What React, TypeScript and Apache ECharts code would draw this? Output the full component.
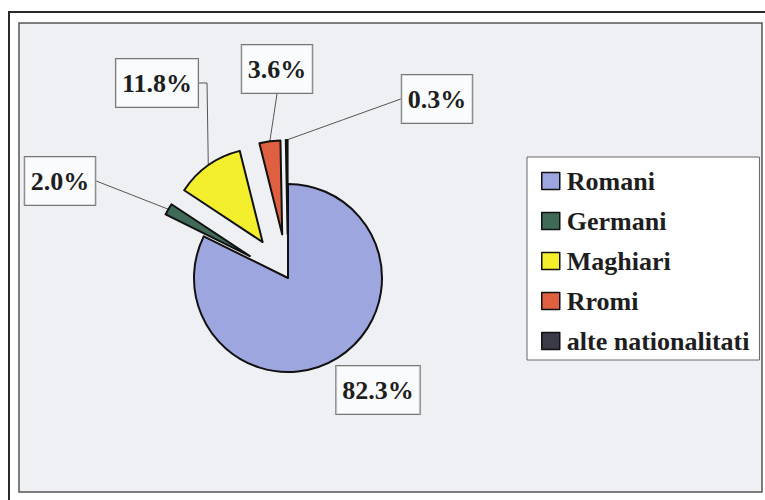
import React, { useEffect, useRef } from "react";
import * as echarts from "echarts";

const categories = ["Romani", "Germani", "Maghiari", "Rromi", "alte nationalitati"];
const shares = [82.3, 2.0, 11.8, 3.6, 0.3];
const exploded = [false, true, true, true, true];
const sliceColors = ["#9ea6e0", "#3f6a58", "#f4ef2c", "#de6040", "#3a3a48"];
// label box centres (px)
const labelCenters: [number, number][] = [
  [378, 390],
  [60, 181],
  [157, 83],
  [277, 69],
  [437, 99],
];
// which side of the label box the leader line leaves from
const leaderSide = ["none", "right", "right", "bottom", "left"];
const leaderElbow = [0, 0, 8, 0, 0];

const FONT = "Liberation Serif, Times New Roman, serif";
const CX = 288;
const CY = 278;
const R = 94;
const EXPLODE = 44;

export default function App() {
  const ref = useRef<HTMLDivElement>(null);
  useEffect(() => {
    if (!ref.current) return;
    const chart = echarts.init(ref.current, undefined, { renderer: "svg" });
    const total = shares.reduce((a, b) => a + b, 0);
    let acc = 0;
    const geo = shares.map((v, i) => {
      const start = (acc / total) * 360;
      acc += v;
      const end = (acc / total) * 360;
      const mid = ((start + end) / 2) * (Math.PI / 180);
      const off = exploded[i] ? EXPLODE : 0;
      const cx = CX + Math.sin(mid) * off;
      const cy = CY - Math.cos(mid) * off;
      return {
        cx,
        cy,
        arc: [cx + Math.sin(mid) * R, cy - Math.cos(mid) * R] as [number, number],
      };
    });

    const series = categories.map((_, i) => ({
      type: "pie",
      name: categories[i],
      center: [geo[i].cx, geo[i].cy],
      radius: R,
      startAngle: 90,
      clockwise: true,
      avoidLabelOverlap: false,
      emphasis: { disabled: true },
      silent: true,
      z: 2,
      labelLayout: (params: any) => {
        const c = labelCenters[params.dataIndex];
        const w = params.labelRect.width;
        const h = params.labelRect.height;
        const side = leaderSide[params.dataIndex];
        let edge: [number, number] = [c[0], c[1]];
        if (side === "right") edge = [c[0] + w / 2, c[1]];
        else if (side === "left") edge = [c[0] - w / 2, c[1]];
        else if (side === "bottom") edge = [c[0], c[1] + h / 2];
        else if (side === "top") edge = [c[0], c[1] - h / 2];
        const el = leaderElbow[params.dataIndex];
        const mid: [number, number] = el
          ? [edge[0] + el, edge[1]]
          : [(edge[0] + geo[params.dataIndex].arc[0]) / 2, (edge[1] + geo[params.dataIndex].arc[1]) / 2];
        return {
          x: c[0],
          y: c[1],
          align: "center",
          verticalAlign: "middle",
          labelLinePoints: [geo[params.dataIndex].arc, mid, edge],
        };
      },
      data: categories.map((name, j) => {
        const visible = j === i;
        return {
          name,
          value: shares[j],
          itemStyle: visible
            ? { color: sliceColors[j], borderColor: "#111111", borderWidth: 2 }
            : { color: "rgba(0,0,0,0)", borderWidth: 0 },
          label: visible
            ? {
                show: true,
                formatter: (p: any) => Number(p.value).toFixed(1) + "%",
                fontFamily: FONT,
                fontWeight: "bold",
                fontSize: 26,
                lineHeight: 28,
                color: "#1e1e1e",
                backgroundColor: "rgba(255,255,255,0.7)",
                borderColor: "#777777",
                borderWidth: 1,
                padding: [10, 6],
              }
            : { show: false },
          labelLine: visible && leaderSide[j] !== "none"
            ? { show: true, smooth: false, lineStyle: { color: "#555555", width: 1 } }
            : { show: false },
        };
      }),
    }));

    chart.setOption({
      animation: false,
      backgroundColor: "#ffffff",
      graphic: [
        {
          type: "rect",
          z: -10,
          shape: { x: 9, y: 12, width: 770, height: 500 },
          style: { fill: "#ffffff", stroke: "#2a2a2a", lineWidth: 2 },
          silent: true,
        },
        {
          type: "rect",
          z: -9,
          shape: { x: 19, y: 23, width: 743, height: 469 },
          style: { fill: "#eff0f3", stroke: "#555555", lineWidth: 1.5 },
          silent: true,
        },
      ],
      legend: {
        orient: "vertical",
        left: 527,
        top: 157,
        data: categories.map((name, i) => ({
          name,
          itemStyle: { color: sliceColors[i], borderColor: "#111111", borderWidth: 1.5 },
        })),
        itemWidth: 18,
        itemHeight: 17,
        itemGap: 12,
        padding: [10, 10, 5, 14],
        backgroundColor: "#ffffff",
        borderColor: "#666666",
        borderWidth: 1,
        icon: "rect",
        textStyle: {
          fontFamily: FONT,
          fontWeight: "bold",
          fontSize: 26,
          lineHeight: 28,
          color: "#1e1e1e",
          padding: [0, 0, 0, 2],
        },
        selectedMode: false,
      },
      series,
    });
    return () => chart.dispose();
  }, []);
  return (
    <div
      ref={ref}
      style={{ position: "fixed", left: 0, top: 0, width: 765, height: 500 }}
    />
  );
}
